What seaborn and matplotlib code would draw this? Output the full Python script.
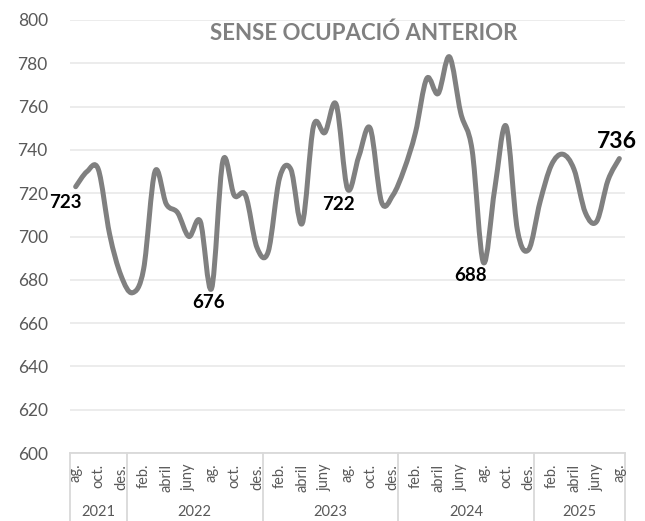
import numpy as np
import seaborn as sns
import matplotlib.pyplot as plt
from matplotlib.path import Path
from matplotlib.patches import PathPatch

# >>>>> data
month_names = ['gen.', 'feb.', 'març', 'abril', 'maig', 'juny',
               'jul.', 'ag.', 'set.', 'oct.', 'nov.', 'des.']
years = [2021] * 5 + [2022] * 12 + [2023] * 12 + [2024] * 12 + [2025] * 8
month_idx = [7, 8, 9, 10, 11] + list(range(12)) * 3 + list(range(8))
values = [723, 730, 731, 701, 682, 674, 685, 730, 715, 711, 700, 707,
          676, 735, 719, 719, 695, 693, 727, 731, 706, 751, 748, 761,
          722, 737, 750, 716, 719, 731, 748, 773, 766, 783, 757, 740,
          688, 722, 751, 703, 694, 716, 733, 738, 731, 711, 707, 726, 736]
# labelled points: index -> (offset px, fontsize)
labelled = {0: ((-10, -16), 13.5), 12: ((-3, -14), 13.5), 24: ((-9, -16), 13.5),
            36: ((-13, -13), 13.5), 48: ((-2, 17), 16.5)}
title = 'SENSE OCUPACIÓ ANTERIOR'
# <<<<< data

sns.set_theme(style='white')
plt.rcParams['font.family'] = ['Lato', 'DejaVu Sans']

GREY = '#808080'
TXT = '#595959'
LIGHT = '#d9d9d9'

fig = plt.figure(figsize=(6.45, 5.21), dpi=100)
ax = fig.add_axes([70 / 645, 68 / 521, 555 / 645, 433 / 521])

x = np.arange(len(values))
y = np.array(values, dtype=float)

# smoothed line (excel style bezier through the points)
verts = [(x[0], y[0])]
codes = [Path.MOVETO]
n = len(x)
for i in range(n - 1):
    p0 = np.array([x[max(i - 1, 0)], y[max(i - 1, 0)]])
    p1 = np.array([x[i], y[i]])
    p2 = np.array([x[i + 1], y[i + 1]])
    p3 = np.array([x[min(i + 2, n - 1)], y[min(i + 2, n - 1)]])
    c1 = p1 + (p2 - p0) / 6
    c2 = p2 - (p3 - p1) / 6
    verts += [tuple(c1), tuple(c2), tuple(p2)]
    codes += [Path.CURVE4] * 3
ax.add_patch(PathPatch(Path(verts, codes), facecolor='none', edgecolor=GREY,
                       lw=3.6, capstyle='round', joinstyle='round', zorder=3))

ax.set_xlim(-0.5, n - 0.5)
ax.set_ylim(600, 800)
ax.set_yticks(np.arange(600, 801, 20))
ax.tick_params(axis='y', length=0, pad=16, labelsize=12.5, labelcolor=TXT)
ax.set_xticks([])
ax.yaxis.grid(True, color='#ebebeb', lw=1.3)
ax.set_axisbelow(True)
sns.despine(ax=ax, left=True)
ax.spines['bottom'].set_color(LIGHT)
ax.spines['bottom'].set_linewidth(1.3)

# data labels
for i, (off, fs) in labelled.items():
    ax.annotate(str(values[i]), (x[i], y[i]), xytext=off, textcoords='offset pixels',
                ha='center', va='center', fontsize=fs, fontweight='bold', color='black')

# category axis: months + year groups
tr = ax.get_xaxis_transform()
for i in range(n):
    if i % 2 == 0:
        ax.text(x[i], -0.025, month_names[month_idx[i]], rotation=90, ha='center', va='top',
                fontsize=10.5, color=TXT, transform=tr)
bounds = [-0.5] + [i - 0.5 for i in range(1, n) if years[i] != years[i - 1]] + [n - 0.5]
for b in bounds:
    ax.plot([b, b], [0, -0.16], transform=tr, clip_on=False, color=LIGHT, lw=1.3)
for yr in sorted(set(years)):
    idx = [i for i in range(n) if years[i] == yr]
    ax.text(np.mean(idx), -0.136, str(yr), ha='center', va='center',
            fontsize=10.5, color=TXT, transform=tr)

ax.text(0.53, 0.97, title, transform=ax.transAxes, ha='center', va='center',
        fontsize=16, fontweight='bold', color=GREY)

fig.savefig('out.png', dpi=100)
